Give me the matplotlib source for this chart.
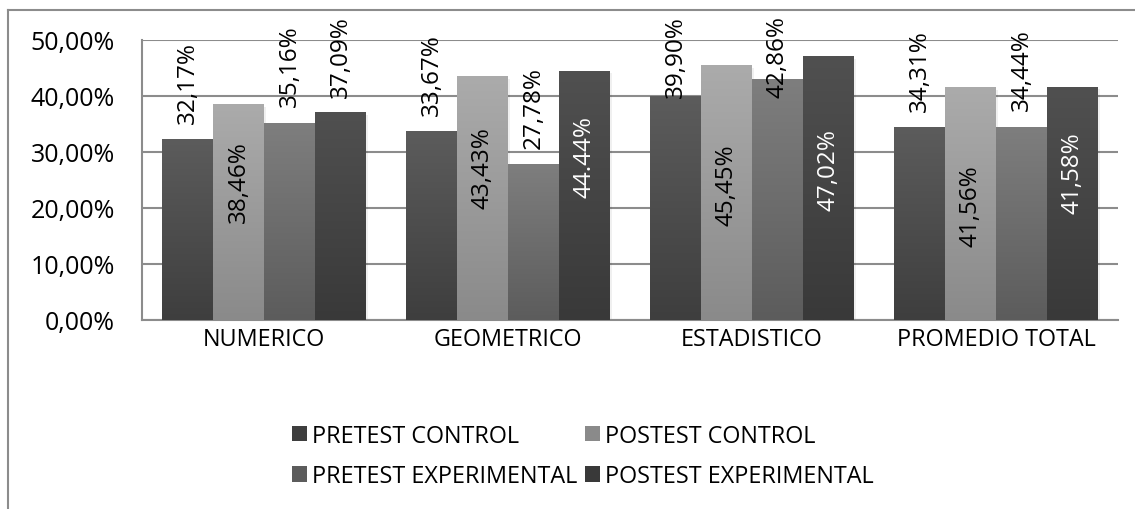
import numpy as np
import matplotlib.pyplot as plt
from matplotlib.patches import Patch, Rectangle
from matplotlib.lines import Line2D

# datos
categorias = ['NUMERICO', 'GEOMETRICO', 'ESTADISTICO', 'PROMEDIO TOTAL']
series = ['PRETEST CONTROL', 'POSTEST CONTROL', 'PRETEST EXPERIMENTAL', 'POSTEST EXPERIMENTAL']
pretest_control = [32.17, 33.67, 39.90, 34.31]
postest_control = [38.46, 43.43, 45.45, 41.56]
pretest_experimental = [35.16, 27.78, 42.86, 34.44]
postest_experimental = [37.09, 44.44, 47.02, 41.58]
valores = [pretest_control, postest_control, pretest_experimental, postest_experimental]
yticks = [0, 10, 20, 30, 40, 50]

# degradado de cada serie (arriba, abajo)
colores = [('#5c5c5c', '#3e3e3e'), ('#ababab', '#8a8a8a'),
           ('#7e7e7e', '#5c5c5c'), ('#505050', '#393939')]

# etiquetas: None = encima de la barra, numero = centro dentro de la barra
pos_etiqueta = [
    [None, None, None, None],
    [24.8, 27.3, 24.3, 20.5],
    [None, None, None, None],
    [None, 29.3, 27.0, 26.4],
]
color_etiqueta = ['black', 'black', 'black', 'white']
texto_especial = {(3, 1): '44.44%'}

plt.rcParams['font.family'] = ['Open Sans', 'DejaVu Sans']
fs = 16.8
fs_val = 17.5
fs_y = 18

fig = plt.figure(figsize=(11.35, 5.1), dpi=100)
ax = fig.add_axes([142 / 1135, 189 / 510, 976 / 1135, 280 / 510])

# marco exterior
fig.add_artist(Line2D([8 / 1135, 8 / 1135], [0, 1 - 11 / 510], color='#8c8c8c', lw=1.5))
fig.add_artist(Line2D([8 / 1135, 1], [1 - 11 / 510, 1 - 11 / 510], color='#8c8c8c', lw=1.5))

x = np.arange(len(categorias))
ancho = 0.836 / 4
grad = np.linspace(0, 1, 256).reshape(-1, 1)

for i, vals in enumerate(valores):
    top, bot = colores[i]
    cmap = plt.matplotlib.colors.LinearSegmentedColormap.from_list('g%d' % i, [bot, top])
    offs = (i - 1.5) * ancho
    barras = ax.bar(x + offs, vals, ancho, color='none', zorder=3)
    for j, b in enumerate(barras):
        x0, w, h = b.get_x(), b.get_width(), b.get_height()
        # sombra
        ax.add_patch(Rectangle((x0 + 0.008, -0.4), w, h, color='#000000', alpha=0.06,
                               zorder=2, lw=0))
        ax.imshow(grad, extent=(x0, x0 + w, 0, h), origin='lower', cmap=cmap,
                  aspect='auto', zorder=3)
        txt = texto_especial.get((i, j), ('%.2f%%' % vals[j]).replace('.', ','))
        p = pos_etiqueta[i][j]
        cx = x0 + w / 2
        if p is None:
            ax.text(cx, min(vals[j] + 3.0, 39.8), txt, rotation=90, ha='center',
                    va='bottom', fontsize=fs_val, color='black', zorder=5, clip_on=False)
        else:
            ax.text(cx, p, txt, rotation=90, ha='center', va='center',
                    fontsize=fs_val, color=color_etiqueta[i], zorder=5)

ax.set_xlim(-0.5, len(categorias) - 0.5)
ax.set_ylim(0, 50)
ax.set_yticks(yticks)
ax.set_yticklabels([('%.2f%%' % v).replace('.', ',') for v in yticks], fontsize=fs_y)
ax.set_xticks(x)
ax.set_xticklabels(categorias, fontsize=fs)
ax.tick_params(axis='y', length=0, pad=19.5)
ax.tick_params(axis='x', length=0, pad=5)
ax.yaxis.grid(True, color='#8c8c8c', lw=1.5, zorder=0)
ax.set_axisbelow(True)
for s in ['right', 'top']:
    ax.spines[s].set_visible(False)
ax.spines['left'].set_color('#8c8c8c')
ax.spines['left'].set_linewidth(1.5)
ax.spines['bottom'].set_color('#8c8c8c')
ax.spines['bottom'].set_linewidth(1.5)

# leyenda
handles = [Patch(facecolor=colores[k][1]) for k in range(4)]
orden = [0, 2, 1, 3]
fig.legend([handles[k] for k in orden], [series[k] for k in orden], ncol=2,
           loc='upper left', bbox_to_anchor=(280 / 1135, 1 - 413 / 510),
           frameon=False, fontsize=fs, handlelength=0.65, handleheight=0.65,
           handletextpad=0.2, columnspacing=0.35, labelspacing=0.72, borderpad=0)

fig.savefig('out.png', dpi=100)
